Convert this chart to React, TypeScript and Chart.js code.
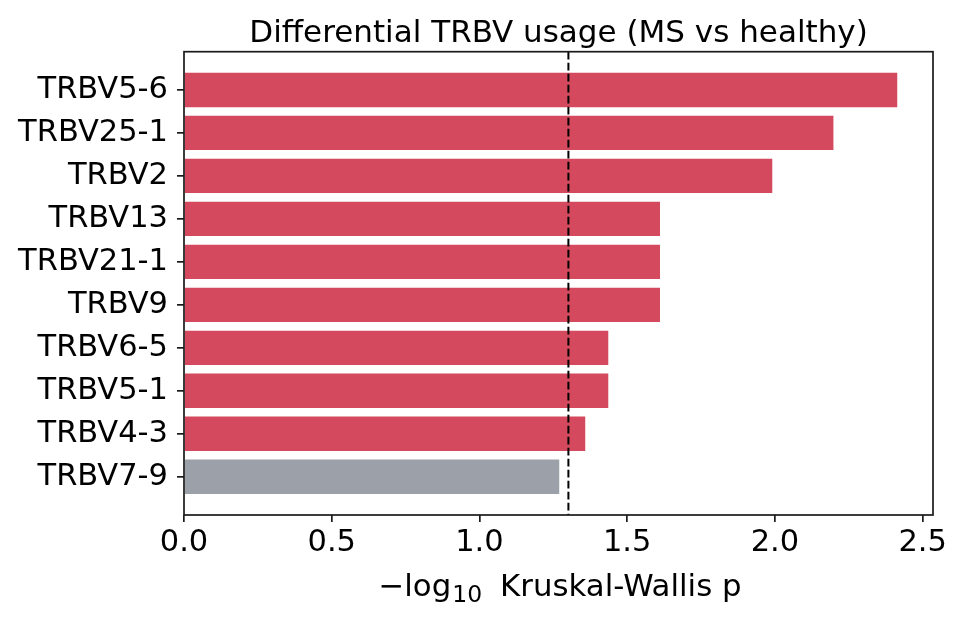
import React, { useEffect, useRef } from "react";
import { Chart, registerables } from "chart.js";

Chart.register(...registerables);

const GENES = [
  "TRBV5-6",
  "TRBV25-1",
  "TRBV2",
  "TRBV13",
  "TRBV21-1",
  "TRBV9",
  "TRBV6-5",
  "TRBV5-1",
  "TRBV4-3",
  "TRBV7-9",
];
const NEG_LOG_P = [2.414, 2.198, 1.991, 1.611, 1.611, 1.611, 1.436, 1.436, 1.358, 1.27];
const X_TICKS = [0, 0.5, 1.0, 1.5, 2.0, 2.5];
const THRESHOLD = -Math.log10(0.05);
const X_MAX = 2.535;

const RED = "#d4495d";
const GREY = "#9ca0a8";
const INK = "#1a1a1a";
const FONT = "'DejaVu Sans', sans-serif";

const refLine = {
  id: "refLine",
  afterDatasetsDraw(chart: any) {
    const { ctx, chartArea, scales } = chart;
    const x = scales.x.getPixelForValue(THRESHOLD);
    ctx.save();
    ctx.strokeStyle = "#000";
    ctx.lineWidth = 2;
    ctx.setLineDash([7.7, 3.3]);
    ctx.beginPath();
    ctx.moveTo(x, chartArea.top);
    ctx.lineTo(x, chartArea.bottom);
    ctx.stroke();
    ctx.restore();
  },
  afterDraw(chart: any) {
    const { ctx, chartArea } = chart;
    ctx.save();
    ctx.strokeStyle = INK;
    ctx.lineWidth = 1.7;
    ctx.strokeRect(
      chartArea.left,
      chartArea.top,
      chartArea.right - chartArea.left,
      chartArea.bottom - chartArea.top
    );

    // x label with a real subscript: −log₁₀ Kruskal-Wallis p
    const base = chartArea.bottom + 81;
    const main = `30.8px ${FONT}`;
    const sub = `23.5px ${FONT}`;
    ctx.fillStyle = "#000";
    ctx.textBaseline = "alphabetic";
    ctx.textAlign = "left";
    ctx.font = main;
    const wLog = ctx.measureText("\u2212log").width;
    const wRest = ctx.measureText("Kruskal-Wallis p").width;
    ctx.font = sub;
    const wSub = ctx.measureText("10").width;
    const gap = 19;
    const total = wLog + wSub + gap + wRest;
    let x = (chartArea.left + chartArea.right) / 2 + 1.5 - total / 2;
    ctx.font = main;
    ctx.fillText("\u2212log", x, base);
    x += wLog + 1;
    ctx.font = sub;
    ctx.fillText("10", x, base + 5.5);
    x += wSub + gap - 1;
    ctx.font = main;
    ctx.fillText("Kruskal-Wallis p", x, base);
    ctx.restore();
  },
};

const TrbvChart: React.FC = () => {
  const canvasRef = useRef<HTMLCanvasElement>(null);
  const chartRef = useRef<Chart>();

  useEffect(() => {
    if (!canvasRef.current) return;
    Chart.defaults.font.family = FONT;
    Chart.defaults.color = "#000";

    chartRef.current = new Chart(canvasRef.current, {
      type: "bar",
      data: {
        datasets: [
          {
            data: NEG_LOG_P.map((v, i) => ({ x: v, y: i })),
            backgroundColor: NEG_LOG_P.map((v) => (v > THRESHOLD ? RED : GREY)),
            borderWidth: 0,
            barPercentage: 0.8,
            categoryPercentage: 1,
          },
        ],
      },
      plugins: [refLine],
      options: {
        animation: false,
        responsive: false,
        devicePixelRatio: 1,
        indexAxis: "y",
        layout: { padding: { left: 0, right: 33, top: 0, bottom: 0 } },
        plugins: {
          legend: { display: false },
          tooltip: { enabled: false },
          title: {
            display: true,
            text: "Differential TRBV usage (MS vs healthy)",
            fullSize: false,
            font: { size: 31, weight: "normal", lineHeight: 1 },
            color: "#000",
            padding: { top: 18, bottom: 2.7 },
          },
        },
        scales: {
          x: {
            type: "linear",
            min: 0,
            max: X_MAX,
            afterBuildTicks: (scale: any) => {
              scale.ticks = X_TICKS.map((v) => ({ value: v }));
            },
            afterFit: (scale: any) => {
              scale.height = 106;
            },
            ticks: {
              font: { size: 30.5 },
              padding: 3,
              callback: (v: any) => Number(v).toFixed(1),
            },
            grid: {
              drawOnChartArea: false,
              drawTicks: true,
              tickLength: 7,
              color: INK,
              lineWidth: 1.7,
            },
            border: { display: false },
          },
          y: {
            type: "linear",
            reverse: true,
            offset: false,
            min: -0.89,
            max: 9.89,
            afterBuildTicks: (scale: any) => {
              scale.ticks = GENES.map((_, i) => ({ value: i }));
            },
            afterFit: (scale: any) => {
              scale.width = 184;
            },
            ticks: {
              font: { size: 30.5 },
              padding: 9,
              callback: (v: any) => GENES[Number(v)] ?? "",
            },
            grid: {
              offset: false,
              drawOnChartArea: false,
              drawTicks: true,
              tickLength: 7,
              color: INK,
              lineWidth: 1.7,
            },
            border: { display: false },
          },
        },
      },
    } as any);

    return () => {
      if (chartRef.current) {
        chartRef.current.destroy();
      }
    };
  }, []);

  return (
    <div style={{ position: "absolute", left: 0, top: 0, width: 966, height: 621, background: "#fff" }}>
      <canvas ref={canvasRef} width={966} height={621} />
    </div>
  );
};

export default function App() {
  return <TrbvChart />;
}
